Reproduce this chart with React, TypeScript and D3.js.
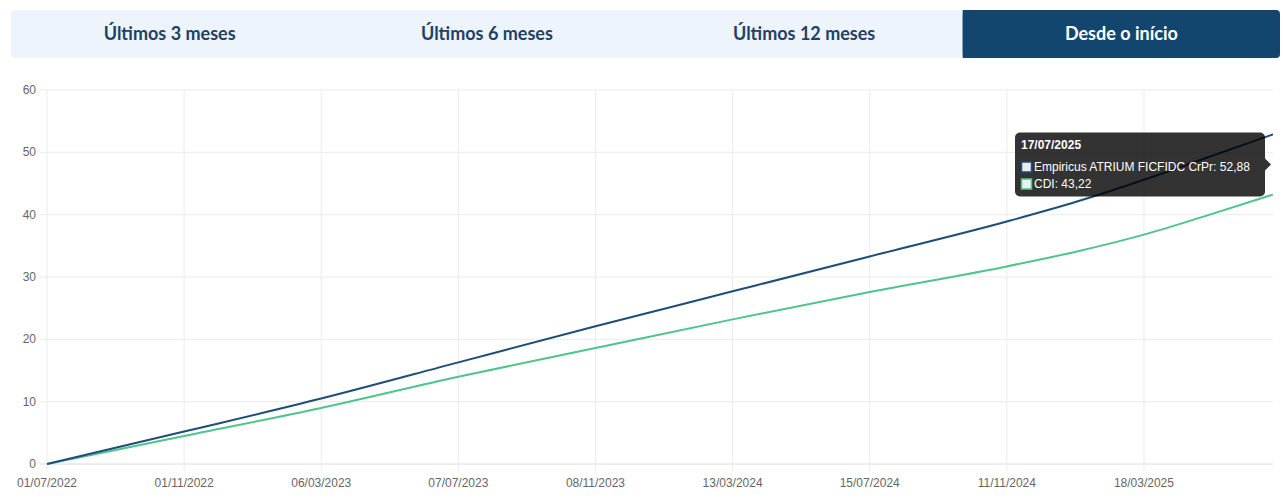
import React from "react";
import * as d3 from "d3";

const tabs = ["Últimos 3 meses", "Últimos 6 meses", "Últimos 12 meses", "Desde o início"];
const activeTab = 3;

// x-axis tick labels (category axis: one label every 85 trading days)
const tickLabels = ["01/07/2022", "01/11/2022", "06/03/2023", "07/07/2023", "08/11/2023", "13/03/2024", "15/07/2024", "11/11/2024", "18/03/2025"];
const tickTradingDay = [0, 85, 170, 255, 340, 425, 510, 595, 680];
const endLabel = "17/07/2025";
const endTradingDay = 760;

const yTicks = [0, 10, 20, 30, 40, 50, 60];

// series sampled at dates (dd/mm/yyyy)
const pointDates = ["01/07/2022", "01/11/2022", "06/03/2023", "07/07/2023", "08/11/2023", "13/03/2024", "15/07/2024", "11/11/2024", "15/01/2025", "18/03/2025", "15/05/2025", "17/07/2025"];
const fundValues = [0, 5.2, 10.5, 16.3, 22.1, 27.7, 33.3, 38.9, 42.1, 45.6, 49.1, 52.88];
const cdiValues = [0, 4.5, 9.0, 14.0, 18.6, 23.2, 27.6, 31.7, 34.1, 36.8, 39.8, 43.22];

const fundName = "Empiricus ATRIUM FICFIDC CrPr";
const cdiName = "CDI";
const fundColor = "#1f4d78";
const cdiColor = "#4fc48c";

const W = 1285, H = 504;
const plot = { left: 47, right: 1273, top: 90, bottom: 464 };

const parse = d3.timeParse("%d/%m/%Y");

export default function App() {
  const tickDates = tickLabels.map((s) => parse(s) as Date);
  const endDate = parse(endLabel) as Date;
  const dateToDay = d3.scaleTime()
    .domain([...tickDates, endDate])
    .range([...tickTradingDay, endTradingDay]);
  const dayToX = d3.scaleLinear().domain([0, endTradingDay]).range([plot.left, plot.right]);
  const x = (d: Date) => dayToX(dateToDay(d));
  const y = d3.scaleLinear().domain([0, 60]).range([plot.bottom, plot.top]);

  const dates = pointDates.map((s) => parse(s) as Date);
  const line = d3.line<[Date, number]>()
    .x((d) => x(d[0]))
    .y((d) => y(d[1]))
    .curve(d3.curveMonotoneX);
  const fundPath = line(dates.map((d, i) => [d, fundValues[i]] as [Date, number])) || "";
  const cdiPath = line(dates.map((d, i) => [d, cdiValues[i]] as [Date, number])) || "";

  // tabs
  const tabX0 = 11, tabX1 = 1280, tabY = 10, tabH = 48;
  const tabW = (tabX1 - tabX0) / tabs.length;

  // tooltip
  const lastF = fundValues[fundValues.length - 1];
  const lastC = cdiValues[cdiValues.length - 1];
  const anchorX = x(endDate) - 1;
  const anchorY = (y(lastF) + y(lastC)) / 2;
  const ttW = 250, ttH = 64;
  const ttX = anchorX - 7 - ttW;
  const ttY = anchorY - ttH / 2;
  const fmt = (v: number) => v.toFixed(2).replace(".", ",");

  const font = "'Liberation Sans', Arial, sans-serif";

  return (
    <svg width={W} height={H} style={{ position: "absolute", left: 0, top: 0, background: "#fff" }}>
      {/* tabs */}
      <rect x={tabX0} y={tabY} width={tabX1 - tabX0} height={tabH} rx={4} fill="#edf4fb" />
      {tabs.map((t, i) => {
        const cx = tabX0 + tabW * i + tabW / 2;
        const active = i === activeTab;
        return (
          <g key={t}>
            {active && (
              <rect x={tabX0 + tabW * i} y={tabY} width={tabW} height={tabH} rx={4} fill="#13466e" />
            )}
            {active && (
              <rect x={tabX0 + tabW * i} y={tabY} width={8} height={tabH} fill="#13466e" />
            )}
            <text x={cx} y={tabY + tabH / 2 + 6} textAnchor="middle" fontFamily="Lato, 'Open Sans', sans-serif" fontWeight={700} fontSize={18} fill={active ? "#ffffff" : "#1e4265"}>
              {t}
            </text>
          </g>
        );
      })}

      {/* grid */}
      {yTicks.map((v) => (
        <g key={"y" + v}>
          <line x1={plot.left - 7} x2={plot.right} y1={y(v)} y2={y(v)} stroke={v === 0 ? "#dcdcdc" : "#ebebeb"} strokeWidth={1} />
          <text x={36} y={y(v) + 4} textAnchor="end" fontFamily={font} fontSize={12} fill="#666">{v}</text>
        </g>
      ))}
      {tickDates.map((d, i) => (
        <g key={"x" + i}>
          <line x1={x(d)} x2={x(d)} y1={plot.top} y2={plot.bottom + 7} stroke="#ebebeb" strokeWidth={1} />
          <text x={x(d)} y={487} textAnchor="middle" fontFamily={font} fontSize={12} fill="#666">{tickLabels[i]}</text>
        </g>
      ))}

      {/* lines */}
      <path d={cdiPath} fill="none" stroke={cdiColor} strokeWidth={2} />
      <path d={fundPath} fill="none" stroke={fundColor} strokeWidth={2} />

      {/* tooltip */}
      <g>
        <rect x={ttX} y={ttY} width={ttW} height={ttH} rx={5} fill="rgba(0,0,0,0.8)" />
        <path d={`M${ttX + ttW},${anchorY - 6} L${ttX + ttW + 6},${anchorY} L${ttX + ttW},${anchorY + 6} Z`} fill="rgba(0,0,0,0.8)" />
        <text x={ttX + 6} y={ttY + 17} fontFamily={font} fontSize={12} fontWeight={700} fill="#fff">{endLabel}</text>
        <rect x={ttX + 6.5} y={ttY + 29.5} width={10} height={10} fill="#e6ecf2" stroke={fundColor} strokeWidth={1.5} />
        <text x={ttX + 19} y={ttY + 38.5} fontFamily={font} fontSize={12} fill="#fff">{`${fundName}: ${fmt(lastF)}`}</text>
        <rect x={ttX + 6.5} y={ttY + 46.5} width={10} height={10} fill="#e6f3ec" stroke={cdiColor} strokeWidth={1.5} />
        <text x={ttX + 19} y={ttY + 55.5} fontFamily={font} fontSize={12} fill="#fff">{`${cdiName}: ${fmt(lastC)}`}</text>
      </g>
    </svg>
  );
}
